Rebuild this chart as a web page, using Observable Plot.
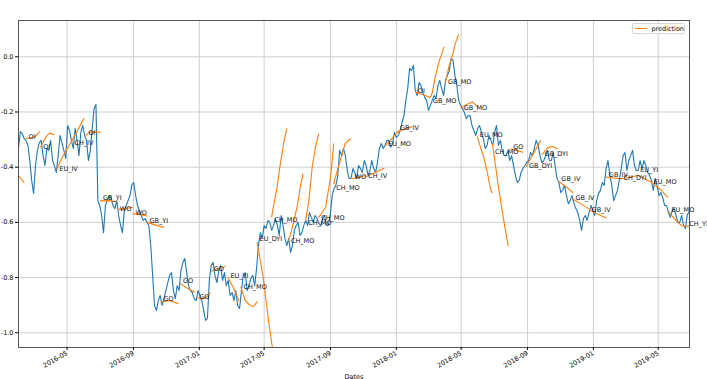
<!DOCTYPE html>
<html><head><meta charset="utf-8">
<script src="https://cdn.jsdelivr.net/npm/d3@7"></script>
<script src="https://cdn.jsdelivr.net/npm/@observablehq/plot@0.6"></script>
<style>
body{margin:0;background:#fff;font-family:"DejaVu Sans",sans-serif;}
#wrap{position:relative;width:707px;height:379px;overflow:hidden;}
.legend{position:absolute;left:632px;top:23px;width:53px;height:11px;border:1px solid #d6d6d6;border-radius:2px;background:rgba(255,255,255,0.85);font-size:6.5px;display:flex;align-items:center;box-sizing:border-box;}
.legend .sw{display:inline-block;width:14px;height:0;border-top:1.3px solid #ff7f0e;margin-left:1.5px;}
.legend .lb{margin-left:4.5px;color:#000;}
</style></head><body><div id="wrap"></div>
<script>
// actual series: readings each Monday from 2016-02-01, plus mid-week readings
const blueStart = "2016-02-01";
const blueValues = [
-0.329,-0.278,-0.303,-0.376,-0.495,-0.339,-0.303,-0.394,-0.339,-0.376,
-0.419,-0.285,-0.339,-0.249,-0.303,-0.260,-0.358,-0.249,-0.303,-0.339,
-0.187,-0.521,-0.575,-0.539,-0.503,-0.539,-0.521,-0.611,-0.557,-0.521,
-0.463,-0.503,-0.557,-0.593,-0.600,-0.684,-0.901,-0.883,-0.901,-0.847,
-0.792,-0.847,-0.829,-0.774,-0.731,-0.829,-0.854,-0.883,-0.865,-0.919,
-0.948,-0.756,-0.792,-0.774,-0.810,-0.829,-0.865,-0.883,-0.901,-0.847,
-0.782,-0.829,-0.792,-0.767,-0.637,-0.611,-0.593,-0.629,-0.586,-0.647,
-0.611,-0.684,-0.709,-0.629,-0.600,-0.637,-0.593,-0.564,-0.600,-0.586,
-0.611,-0.575,-0.611,-0.503,-0.466,-0.339,-0.332,-0.412,-0.441,-0.419,
-0.394,-0.419,-0.394,-0.412,-0.405,-0.383,-0.314,-0.321,-0.303,-0.314,
-0.292,-0.267,-0.213,-0.115,-0.050,-0.122,-0.093,-0.129,-0.158,-0.176,
-0.140,-0.104,-0.115,-0.086,-0.050,-0.013,-0.104,-0.176,-0.202,-0.213,
-0.249,-0.285,-0.249,-0.296,-0.321,-0.303,-0.274,-0.321,-0.339,-0.358,
-0.376,-0.394,-0.455,-0.419,-0.394,-0.376,-0.358,-0.303,-0.358,-0.376,
-0.339,-0.376,-0.394,-0.455,-0.484,-0.503,-0.521,-0.532,-0.564,-0.629,
-0.575,-0.564,-0.557,-0.521,-0.484,-0.466,-0.376,-0.466,-0.503,-0.448,
-0.358,-0.412,-0.358,-0.394,-0.412,-0.405,-0.394,-0.430,-0.484,-0.466,
-0.492,-0.539,-0.564,-0.557,-0.575,-0.600,-0.611,-0.571,-0.564
];
const blueMidweek = [
-0.271,-0.297,-0.322,-0.449,-0.394,-0.311,-0.358,-0.332,-0.303,-0.394,
-0.358,-0.311,-0.368,-0.267,-0.332,-0.303,-0.274,-0.285,-0.376,-0.260,
-0.173,-0.539,-0.637,-0.521,-0.513,-0.550,-0.575,-0.637,-0.539,-0.503,
-0.456,-0.539,-0.575,-0.586,-0.611,-0.792,-0.919,-0.865,-0.876,-0.818,
-0.782,-0.876,-0.847,-0.745,-0.782,-0.847,-0.876,-0.847,-0.883,-0.955,
-0.810,-0.745,-0.818,-0.756,-0.782,-0.810,-0.854,-0.847,-0.912,-0.789,
-0.847,-0.803,-0.829,-0.684,-0.658,-0.622,-0.600,-0.611,-0.611,-0.575,
-0.658,-0.658,-0.684,-0.611,-0.647,-0.611,-0.611,-0.582,-0.575,-0.604,
-0.586,-0.611,-0.575,-0.477,-0.430,-0.358,-0.358,-0.441,-0.405,-0.441,
-0.405,-0.376,-0.430,-0.376,-0.419,-0.332,-0.332,-0.303,-0.328,-0.274,
-0.285,-0.238,-0.158,-0.042,-0.031,-0.140,-0.104,-0.147,-0.194,-0.158,
-0.151,-0.086,-0.140,-0.068,-0.006,-0.068,-0.158,-0.187,-0.224,-0.213,
-0.267,-0.260,-0.274,-0.332,-0.285,-0.321,-0.249,-0.303,-0.358,-0.339,
-0.358,-0.430,-0.448,-0.405,-0.383,-0.347,-0.332,-0.321,-0.383,-0.358,
-0.376,-0.347,-0.441,-0.492,-0.466,-0.532,-0.503,-0.550,-0.593,-0.586,
-0.593,-0.539,-0.575,-0.495,-0.456,-0.405,-0.430,-0.521,-0.484,-0.405,
-0.347,-0.376,-0.339,-0.412,-0.376,-0.376,-0.419,-0.448,-0.441,-0.503,
-0.510,-0.539,-0.582,-0.549,-0.600,-0.575,-0.622,-0.564
];

// prediction segments
const predLabels = ["","OI","OI","EU_IV","CH_IV","OI","GB_YI","WO","WO","GB_YI",
"GO","GO","GO","GO","EU_YI","CH_MO","EU_DYI","CH_MO","CH_MO","CH_MO",
"CH_MO","CH_MO","WO","CH_IV","EU_MO","GB_IV","OI","GB_MO","GB_MO","GB_MO",
"EU_MO","CH_MO","GO","GB_DYI","GB_DYI","GB_IV","GB_IV","GB_IV","GB_IV","CH_DYI",
"EU_YI","EU_MO","EU_MO","CH_YI"];
// value at which each label's baseline sits
const predLabelValues = [null,-0.297,-0.333,-0.413,-0.318,-0.285,-0.518,-0.558,-0.572,-0.604,
-0.884,-0.819,-0.877,-0.775,-0.803,-0.841,-0.668,-0.598,-0.676,-0.608,
-0.593,-0.481,-0.442,-0.438,-0.324,-0.266,-0.130,-0.167,-0.098,-0.192,
-0.290,-0.351,-0.333,-0.402,-0.358,-0.449,-0.520,-0.563,-0.436,-0.445,
-0.418,-0.460,-0.562,-0.613];
const predDates = [
["2016-01-20","2016-02-01","2016-02-11"],
["2016-02-15","2016-02-22","2016-03-03","2016-03-08","2016-03-11"],
["2016-03-13","2016-03-19","2016-03-25","2016-03-30","2016-04-06"],
["2016-04-12","2016-04-25","2016-05-10"],
["2016-05-10","2016-05-21","2016-06-01"],
["2016-06-05","2016-06-11","2016-06-20","2016-07-01"],
["2016-07-02","2016-07-18","2016-08-02"],
["2016-08-02","2016-08-17","2016-08-30"],
["2016-08-31","2016-09-13","2016-09-26"],
["2016-09-26","2016-10-11","2016-10-27"],
["2016-10-22","2016-11-05","2016-11-14","2016-11-23"],
["2016-11-27","2016-12-09","2016-12-24"],
["2016-12-27","2017-01-08","2017-01-18","2017-01-21"],
["2017-01-23","2017-02-05","2017-02-18"],
["2017-02-23","2017-03-05","2017-03-15"],
["2017-03-19","2017-03-27","2017-04-05","2017-04-12","2017-04-18"],
["2017-04-18","2017-04-24","2017-04-30","2017-05-09","2017-05-16","2017-05-20"],
["2017-05-15","2017-05-18","2017-05-25","2017-05-31","2017-06-06","2017-06-12"],
["2017-06-15","2017-06-21","2017-07-01","2017-07-07","2017-07-12"],
["2017-07-17","2017-07-23","2017-07-29","2017-08-04","2017-08-10"],
["2017-08-10","2017-08-13","2017-08-23","2017-09-01","2017-09-07"],
["2017-09-07","2017-09-10","2017-09-19","2017-09-28","2017-10-08"],
["2017-10-11","2017-10-23","2017-11-05"],
["2017-11-05","2017-11-21","2017-12-09"],
["2017-12-12","2017-12-24","2018-01-05"],
["2018-01-03","2018-01-16","2018-01-30"],
["2018-02-05","2018-02-18","2018-03-04"],
["2018-03-05","2018-03-08","2018-03-14","2018-03-20","2018-03-30"],
["2018-04-02","2018-04-08","2018-04-14","2018-04-20","2018-04-26"],
["2018-05-01","2018-05-11","2018-05-22","2018-05-31"],
["2018-05-31","2018-06-06","2018-06-12","2018-06-19","2018-06-25","2018-06-28"],
["2018-06-28","2018-07-04","2018-07-10","2018-07-16","2018-07-22","2018-07-27"],
["2018-08-01","2018-08-12","2018-08-23"],
["2018-08-30","2018-09-12","2018-09-25"],
["2018-09-28","2018-10-08","2018-10-17","2018-10-26"],
["2018-10-29","2018-11-11","2018-11-24"],
["2018-11-24","2018-12-09","2018-12-24"],
["2018-12-24","2019-01-08","2019-01-25"],
["2019-01-25","2019-02-07","2019-02-21"],
["2019-02-21","2019-03-08","2019-03-24"],
["2019-03-24","2019-04-05","2019-04-18"],
["2019-04-18","2019-05-03","2019-05-19"],
["2019-05-21","2019-05-29","2019-06-06","2019-06-14","2019-06-23"],
["2019-06-23","2019-06-28"]
];
const predValues = [
[-0.405,-0.430,-0.455],
[-0.296,-0.294,-0.289,-0.278,-0.272],
[-0.328,-0.303,-0.285,-0.276,-0.282],
[-0.406,-0.354,-0.303],
[-0.303,-0.264,-0.224],
[-0.285,-0.274,-0.272,-0.274],
[-0.522,-0.521,-0.526],
[-0.553,-0.550,-0.545],
[-0.569,-0.571,-0.577],
[-0.600,-0.609,-0.618],
[-0.889,-0.883,-0.888,-0.895],
[-0.822,-0.838,-0.853],
[-0.872,-0.877,-0.865,-0.854],
[-0.777,-0.767,-0.760],
[-0.800,-0.836,-0.883],
[-0.835,-0.883,-0.901,-0.905,-0.887],
[-0.673,-0.738,-0.810,-0.955,-1.050,-1.100],
[-0.581,-0.545,-0.472,-0.388,-0.315,-0.261],
[-0.666,-0.629,-0.545,-0.472,-0.424],
[-0.593,-0.521,-0.400,-0.328,-0.279],
[-0.581,-0.575,-0.545,-0.436,-0.315],
[-0.460,-0.436,-0.376,-0.315,-0.297],
[-0.442,-0.437,-0.430],
[-0.436,-0.421,-0.404],
[-0.321,-0.296,-0.267],
[-0.273,-0.262,-0.253],
[-0.128,-0.137,-0.147],
[-0.146,-0.134,-0.074,-0.025,0.035],
[-0.092,-0.038,-0.001,0.047,0.080],
[-0.186,-0.173,-0.164,-0.180],
[-0.291,-0.328,-0.364,-0.424,-0.484,-0.492],
[-0.315,-0.400,-0.484,-0.557,-0.629,-0.684],
[-0.333,-0.339,-0.346],
[-0.397,-0.350,-0.303],
[-0.354,-0.330,-0.325,-0.333],
[-0.452,-0.470,-0.492],
[-0.515,-0.533,-0.551],
[-0.554,-0.570,-0.584],
[-0.436,-0.439,-0.442],
[-0.442,-0.437,-0.430],
[-0.430,-0.441,-0.454],
[-0.454,-0.477,-0.509],
[-0.563,-0.582,-0.600,-0.612,-0.615],
[-0.615,-0.611]
];

const xTicks = ["2016-05-01","2016-09-01","2017-01-01","2017-05-01","2017-09-01","2018-01-01","2018-05-01","2018-09-01","2019-01-01","2019-05-01"];
const yTicks = [-1.0,-0.8,-0.6,-0.4,-0.2,0.0];
const xRange = ["2016-02-01","2019-06-28"];
const yRange = [-1.0533, 0.1315];

const parse = d3.utcParse("%Y-%m-%d");
const start = parse(blueStart);
const blue = [];
blueValues.forEach((v,i)=>{
  blue.push({date: d3.utcDay.offset(start, 7*i), value: v});
  if (i < blueMidweek.length) blue.push({date: d3.utcHour.offset(start, 168*i + 84), value: blueMidweek[i]});
});
const pred = predLabels.flatMap((lab,s)=>predDates[s].map((d,j)=>({seg:s, date: parse(d), value: predValues[s][j]})));
const labels = predLabels.map((lab,s)=>({label: lab, date: parse(predDates[s][0]), value: predLabelValues[s]})).filter(d=>d.label);
const xTickDates = xTicks.map(parse);

const chart = Plot.plot({
  width: 707, height: 379,
  marginLeft: 18, marginRight: 18, marginTop: 20, marginBottom: 32,
  style: {fontFamily: "DejaVu Sans", fontSize: "6.5px", background: "white", overflow: "visible", color: "#000"},
  x: {type: "utc", domain: xRange.map(parse)},
  y: {domain: yRange},
  marks: [
    Plot.gridX(xTickDates, {stroke: "#cfcfcf", strokeOpacity: 1, strokeWidth: 1}),
    Plot.gridY(yTicks, {stroke: "#cfcfcf", strokeOpacity: 1, strokeWidth: 1}),
    Plot.line(blue, {x: "date", y: "value", stroke: "#1f77b4", strokeWidth: 1.1, clip: true}),
    Plot.line(pred, {x: "date", y: "value", z: "seg", stroke: "#ff7f0e", strokeWidth: 1.1, clip: true}),
    Plot.text(labels, {x: "date", y: "value", text: "label", textAnchor: "start", lineAnchor: "bottom", dx: 2.5, fill: "#111", fontSize: 6.5}),
    Plot.frame({stroke: "#444", strokeWidth: 0.9}),
    Plot.axisY(yTicks, {tickSize: 3, tickPadding: 2, tickFormat: d => d.toFixed(1), label: null, fontSize: 6.5}),
    Plot.axisX(xTickDates, {tickSize: 3, tickPadding: 2, tickRotate: -30, tickFormat: d3.utcFormat("%Y-%m"), label: "Dates", labelAnchor: "center", labelOffset: 31, labelArrow: "none", fontSize: 6.5})
  ]
});
const wrap = document.getElementById("wrap");
wrap.appendChild(chart);
const leg = document.createElement("div");
leg.className = "legend";
leg.innerHTML = '<span class="sw"></span><span class="lb">prediction</span>';
wrap.appendChild(leg);
</script>
</body></html>
